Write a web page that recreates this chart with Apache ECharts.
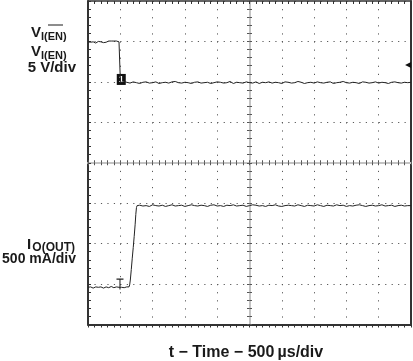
<!DOCTYPE html>
<html>
<head>
<meta charset="utf-8">
<script src="https://cdn.jsdelivr.net/npm/echarts@6/dist/echarts.min.js"></script>
<style>
html,body{margin:0;padding:0;background:#fff;}
#chart{width:413px;height:361px;}
</style>
</head>
<body>
<div id="chart"></div>
<script>
// ---- scope settings ----
const timeMin = 0, timeMax = 5000, timePerDiv = 500;      // µs
const divsY = 8;
const ch1VoltsPerDiv = 5, ch1ZeroDiv = 5.98;               // V/div, ground position (div)
const ch2mAPerDiv = 500, ch2ZeroDiv = 0.92;                // mA/div

// ---- Channel 1: V_I(EN) (V) ----
const ch1HighT = [0,20,40,60,80,100,120,140,160,180,200,220,240,260,280,300,320,340,360,380,400,420,440,460,480,498];
const ch1HighV = [5.05,5.05,5.0,5.1,5.05,4.95,4.9,5.05,5.1,5.05,5.05,5.1,4.95,4.9,5.0,5.05,5.15,5.0,5.15,4.95,5.15,5.05,5.15,5.0,5.05,5.05];
const ch1StepT = [502,525];
const ch1StepV = [0.0,0.1];
const ch1LowT = [550,600,650,700,750,800,850,900,950,1000,1050,1100,1150,1200,1250,1300,1350,1400,1450,1500,
  1550,1600,1650,1700,1750,1800,1850,1900,1950,2000,2050,2100,2150,2200,2250,2300,2350,2400,2450,2500,
  2550,2600,2650,2700,2750,2800,2850,2900,2950,3000,3050,3100,3150,3200,3250,3300,3350,3400,3450,3500,
  3550,3600,3650,3700,3750,3800,3850,3900,3950,4000,4050,4100,4150,4200,4250,4300,4350,4400,4450,4500,
  4550,4600,4650,4700,4750,4800,4850,4900,4950,5000];
const ch1LowV = [0.15,0.05,-0.05,0.1,0,-0.1,0.05,0.1,-0.05,0, 0.1,-0.1,0,0.05,-0.05,0.1,0.15,0,-0.05,0.05,
  0,-0.1,0.05,0.1,-0.05,0,0.05,-0.1,0,0.1, 0.05,-0.05,0,0.15,-0.1,0.05,0,-0.05,0.1,0,
  -0.05,0.1,-0.1,0.05,0,0.1,-0.05,0.05,0,-0.1, 0.1,0.05,-0.05,0,0.15,0.05,-0.1,0,0.05,-0.05,
  0.1,0,-0.05,0.05,0.1,-0.1,0,0.05,0.15,0, -0.05,0.05,0,-0.1,0.1,0.05,-0.05,0,0.1,-0.05,
  0.05,0,-0.1,0.05,0.1,0,-0.05,0.05,0,0.05];

// ---- Channel 2: I_O(OUT) (mA) ----
const ch2LowT = [0,20,40,60,80,100,120,140,160,180,200,220,240,260,280,300,320,340,360,380,400,420,440,460,480,500,520,540,560,580,600,620];
const ch2LowV = [0,-5,5,0,-10,0,5,-5,0,10,5,-5,-10,0,5,0,-5,5,10,0,-5,0,5,-10,0,5,0,10,-5,0,5,0];
const ch2RiseT = [635,645,655,670,685,700,715,730,740,750,760,775];
const ch2RiseV = [5,30,90,220,360,490,630,780,900,985,1010,1000];
const ch2HighT = [800,850,900,950,1000,1050,1100,1150,1200,1250,1300,1350,1400,1450,1500,1550,1600,1650,1700,1750,
  1800,1850,1900,1950,2000,2050,2100,2150,2200,2250,2300,2350,2400,2450,2500,2550,2600,2650,2700,2750,
  2800,2850,2900,2950,3000,3050,3100,3150,3200,3250,3300,3350,3400,3450,3500,3550,3600,3650,3700,3750,
  3800,3850,3900,3950,4000,4050,4100,4150,4200,4250,4300,4350,4400,4450,4500,4550,4600,4650,4700,4750,
  4800,4850,4900,4950,5000];
const ch2HighV = [1015,1005,1010,1000,1020,1010,1005,1015,1000,1010, 1020,1005,1010,1015,1000,1010,1020,1010,1005,1015,
  1010,1000,1015,1020,1005,1010,1000,1015,1010,1020, 1005,1010,1015,1000,1010,1020,1015,1005,1010,1000,
  1015,1010,1020,1005,1000,1010,1015,1010,1005,1020, 1010,1000,1015,1010,1005,1020,1010,1000,1015,1010,
  1005,1020,1010,1015,1000,1010,1005,1015,1020,1010, 1000,1010,1015,1005,1010,1020,1005,1010,1015,1000,
  1010,1015,1005,1010,1010];

// markers
const ch1GroundMarker = [515, 0.4];
const ch1TriggerLevel = [4955, 2.2];
const ch2Marker = [495, 40];

// ---- labels ----
const labelCh1Name = ['V', 'I(EN)'];
const labelCh1Scale = '5 V/div';
const labelCh2Name = ['I', 'O(OUT)'];
const labelCh2Scale = '500 mA/div';
const labelTime = 't \u2212 Time \u2212 500\u2009\u00b5s/div';

function zip(t, v) { return t.map((x, i) => [x, v[i]]); }
const ch1Data = zip(ch1HighT, ch1HighV).concat(zip(ch1StepT, ch1StepV), zip(ch1LowT, ch1LowV));
const ch2Data = zip(ch2LowT, ch2LowV).concat(zip(ch2RiseT, ch2RiseV), zip(ch2HighT, ch2HighV));

const G = {left: 88, top: 1, width: 323, height: 323.5};
const FONT = '"Liberation Sans", Arial, Helvetica, sans-serif';
const frame = '#333';
const dots = '#5a5a5a';
const divX = G.width / ((timeMax - timeMin) / timePerDiv);
const divY = G.height / divsY;

const chart = echarts.init(document.getElementById('chart'), null, {renderer: 'canvas'});
const hideLab = {show: false};
const option = {
  animation: false,
  grid: {left: G.left, top: G.top, width: G.width, height: G.height, containLabel: false},
  xAxis: [
    { // bottom border + vertical dotted grid
      type: 'value', min: timeMin, max: timeMax, interval: timePerDiv, position: 'bottom',
      axisLine: {onZero: false, lineStyle: {color: frame, width: 2}},
      axisTick: {show: true, inside: false, length: 3, lineStyle: {color: frame}},
      minorTick: {show: true, splitNumber: 5, length: 3, lineStyle: {color: frame}},
      axisLabel: hideLab,
      splitLine: {show: true, lineStyle: {color: dots, width: 1, type: [1.2, divY / 5 - 1.2]}}
    },
    { // top border
      type: 'value', min: timeMin, max: timeMax, interval: timePerDiv, position: 'top',
      axisLine: {onZero: false, lineStyle: {color: frame, width: 1.5}},
      axisTick: {show: true, inside: true, length: 3, lineStyle: {color: frame}},
      minorTick: {show: true, splitNumber: 5, length: 3, lineStyle: {color: frame}},
      axisLabel: hideLab, splitLine: {show: false}
    },
    { // center horizontal line ticks (up)
      type: 'value', min: timeMin, max: timeMax, interval: timePerDiv / 5, position: 'bottom', offset: -G.height / 2,
      axisLine: {onZero: false, lineStyle: {color: '#c4c4c4', width: 2}},
      axisTick: {show: true, inside: true, length: 2.5, lineStyle: {color: '#555'}},
      axisLabel: hideLab, splitLine: {show: false}
    },
    { // center horizontal line ticks (down)
      type: 'value', min: timeMin, max: timeMax, interval: timePerDiv / 5, position: 'bottom', offset: -G.height / 2,
      axisLine: {show: false, onZero: false},
      axisTick: {show: true, inside: false, length: 2.5, lineStyle: {color: '#555'}},
      axisLabel: hideLab, splitLine: {show: false}
    }
  ],
  yAxis: [
    { // left border + horizontal dotted grid (divisions)
      type: 'value', min: 0, max: divsY, interval: 1, position: 'left',
      axisLine: {onZero: false, lineStyle: {color: frame, width: 2}},
      axisTick: {show: true, inside: true, length: 3, lineStyle: {color: frame}},
      minorTick: {show: true, splitNumber: 5, length: 3, lineStyle: {color: frame}},
      axisLabel: hideLab,
      splitLine: {show: true, lineStyle: {color: dots, width: 1, type: [1.2, divX / 5 - 1.2]}}
    },
    { // channel 1 scale (V)
      type: 'value', show: false, min: -ch1ZeroDiv * ch1VoltsPerDiv, max: (divsY - ch1ZeroDiv) * ch1VoltsPerDiv,
      axisLine: {onZero: false}, splitLine: {show: false}
    },
    { // channel 2 scale (mA)
      type: 'value', show: false, min: -ch2ZeroDiv * ch2mAPerDiv, max: (divsY - ch2ZeroDiv) * ch2mAPerDiv,
      axisLine: {onZero: false}, splitLine: {show: false}
    },
    { // right border
      type: 'value', min: 0, max: divsY, interval: 1, position: 'right',
      axisLine: {onZero: false, lineStyle: {color: frame, width: 2}},
      axisTick: {show: false}, axisLabel: hideLab, splitLine: {show: false}
    },
    { // center vertical line ticks
      type: 'value', min: 0, max: divsY, interval: 0.2, position: 'left', offset: -G.width / 2,
      axisLine: {onZero: false, lineStyle: {color: '#c4c4c4', width: 2}},
      axisTick: {show: true, inside: true, length: 2.5, lineStyle: {color: '#555'}},
      axisLabel: hideLab, splitLine: {show: false}
    },
    {
      type: 'value', min: 0, max: divsY, interval: 0.2, position: 'left', offset: -G.width / 2,
      axisLine: {show: false, onZero: false},
      axisTick: {show: true, inside: false, length: 2.5, lineStyle: {color: '#555'}},
      axisLabel: hideLab, splitLine: {show: false}
    }
  ],
  series: [
    {
      name: 'V_I(EN)', type: 'line', xAxisIndex: 0, yAxisIndex: 1, data: ch1Data,
      symbol: 'none', lineStyle: {color: '#222', width: 1}, silent: true, z: 5,
      markPoint: {
        silent: true,
        data: [
          {coord: ch1GroundMarker, symbol: 'rect', symbolSize: [9, 11], itemStyle: {color: '#111'},
           label: {show: true, position: 'inside', formatter: '1', color: '#fff', fontSize: 9, fontWeight: 'bold', fontFamily: FONT}},
          {coord: ch1TriggerLevel, symbol: 'triangle', symbolRotate: 90, symbolSize: [6, 6], itemStyle: {color: '#111'},
           label: {show: false}}
        ]
      }
    },
    {
      name: 'I_O(OUT)', type: 'line', xAxisIndex: 0, yAxisIndex: 2, data: ch2Data,
      symbol: 'none', lineStyle: {color: '#222', width: 1}, silent: true, z: 5,
      markPoint: {
        silent: true,
        data: [
          {coord: ch2Marker, symbol: 'path://M0,0H8V1.2H4.6V12H3.4V1.2H0Z', symbolSize: [7, 11],
           itemStyle: {color: '#222'}, label: {show: false}}
        ]
      }
    }
  ],
  graphic: [
    {type: 'text', x: 31, y: 32.5, style: {text: labelCh1Name[0], font: 'bold 15px ' + FONT, fill: '#1a1a1a', verticalAlign: 'middle'}},
    {type: 'text', x: 41, y: 36.5, style: {text: labelCh1Name[1], font: 'bold 11px ' + FONT, fill: '#1a1a1a', verticalAlign: 'middle'}},
    {type: 'line', shape: {x1: 48, y1: 25, x2: 63, y2: 25}, style: {stroke: '#1a1a1a', lineWidth: 1}},
    {type: 'text', x: 31, y: 52, style: {text: labelCh1Name[0], font: 'bold 15px ' + FONT, fill: '#1a1a1a', verticalAlign: 'middle'}},
    {type: 'text', x: 41, y: 56, style: {text: labelCh1Name[1], font: 'bold 11px ' + FONT, fill: '#1a1a1a', verticalAlign: 'middle'}},
    {type: 'text', x: 76, y: 68, style: {text: labelCh1Scale, font: 'bold 15px ' + FONT, fill: '#1a1a1a', align: 'right', verticalAlign: 'middle'}},
    {type: 'text', x: 27, y: 245, style: {text: labelCh2Name[0], font: 'bold 15px ' + FONT, fill: '#1a1a1a', verticalAlign: 'middle'}},
    {type: 'text', x: 75, y: 248, style: {text: labelCh2Name[1], font: 'bold 12px ' + FONT, fill: '#1a1a1a', align: 'right', verticalAlign: 'middle'}},
    {type: 'text', x: 76, y: 259, style: {text: labelCh2Scale, font: 'bold 14px ' + FONT, fill: '#1a1a1a', align: 'right', verticalAlign: 'middle'}},
    {type: 'text', x: 246, y: 353, style: {text: labelTime, font: 'bold 16px ' + FONT, fill: '#1a1a1a', align: 'center', verticalAlign: 'middle'}}
  ]
};
chart.setOption(option);
</script>
</body>
</html>
